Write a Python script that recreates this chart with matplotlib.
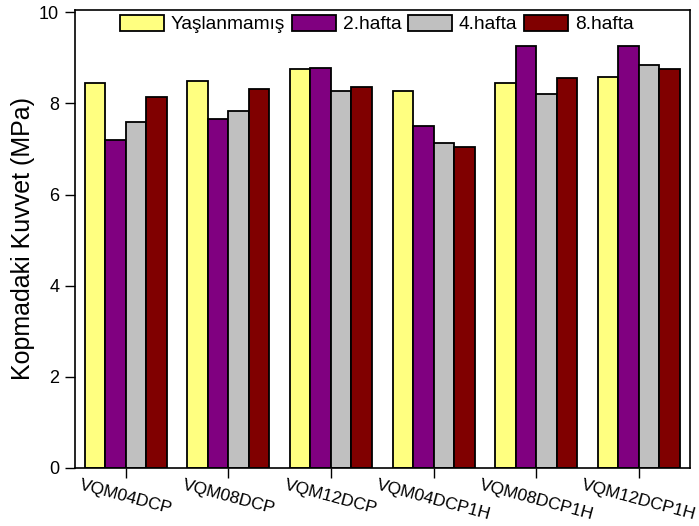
import numpy as np
import matplotlib
matplotlib.use('Agg')
import matplotlib.pyplot as plt

plt.rcParams['font.family'] = ['Liberation Sans', 'DejaVu Sans']

# Sample names and series
samples = ['VQM04DCP', 'VQM08DCP', 'VQM12DCP', 'VQM04DCP1H', 'VQM08DCP1H', 'VQM12DCP1H']
series_names = ['Yaşlanmamış', '2.hafta', '4.hafta', '8.hafta']
yaslanmamis = [8.45, 8.50, 8.75, 8.28, 8.44, 8.58]
hafta2 = [7.20, 7.65, 8.77, 7.50, 9.26, 9.26]
hafta4 = [7.59, 7.83, 8.28, 7.14, 8.21, 8.84]
hafta8 = [8.13, 8.31, 8.37, 7.05, 8.56, 8.75]
colors = ['#FFFF80', '#800080', '#C0C0C0', '#800000']

fig = plt.figure(figsize=(6.99, 5.26), dpi=100)
ax = fig.add_axes([0.1066, 0.1103, 0.8805, 0.8707])

x = np.arange(len(samples))
width = 0.2
for i, (vals, name) in enumerate(zip([yaslanmamis, hafta2, hafta4, hafta8], series_names)):
    ax.bar(x + (i - 1.5) * width, vals, width, color=colors[i],
           edgecolor='black', linewidth=1.3, label=name)

ax.set_xlim(-0.5, 5.5)
ax.set_ylim(0, 10.05)
ax.set_yticks([0, 2, 4, 6, 8, 10])
ax.set_xticks(x)
ax.set_xticklabels(samples, rotation=-15, ha='center', fontsize=12.5)
ax.tick_params(axis='y', direction='out', length=7, width=1, pad=4, labelsize=13)
ax.tick_params(axis='x', direction='out', length=7, width=1, pad=0)
for sp in ax.spines.values():
    sp.set_linewidth(1.2)

ax.set_ylabel('Kopmadaki Kuvvet (MPa)', fontsize=18)
ax.yaxis.set_label_coords(-0.064, 0.5)

ax.legend(loc='upper left', bbox_to_anchor=(0.074, 0.99), ncol=4, frameon=False,
          fontsize=13.8, borderpad=0, handlelength=2.3, handleheight=0.95,
          handletextpad=0.35, columnspacing=0.35, borderaxespad=0)

fig.savefig('out.png', dpi=100)
